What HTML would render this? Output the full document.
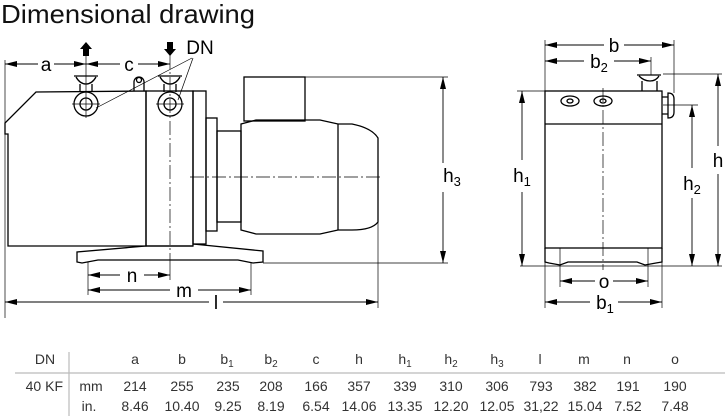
<!DOCTYPE html>
<html><head><meta charset="utf-8"><style>
html,body{margin:0;padding:0;background:#fff;}
svg{display:block;font-family:"Liberation Sans",sans-serif;}
</style></head><body>
<svg width="725" height="416" viewBox="0 0 725 416" xmlns="http://www.w3.org/2000/svg">
<defs>
<marker id="ar" markerWidth="12" markerHeight="8" refX="12" refY="4" orient="auto" markerUnits="userSpaceOnUse">
<path d="M0,1 L12,4 L0,7 Z" fill="#000"/></marker>
</defs>
<text x="1" y="23" font-size="26" fill="#111" textLength="254" lengthAdjust="spacingAndGlyphs">Dimensional drawing</text>

<g stroke="#000" stroke-width="1.3" fill="none">
<path d="M8,134 L5,134 L5,123 L36,92 L146,91 L146,246 L8,246 Z"/>
<rect x="146" y="91" width="47" height="155"/>
<rect x="193" y="91" width="13" height="153"/>
<rect x="206" y="118" width="11" height="113"/>
<rect x="217" y="131" width="24" height="91"/>
<rect x="244" y="77" width="61" height="44"/>
<path d="M241,124 L256,120 L320,120 L338,124 L352,124 Q372,128 378,138 L378,222 Q372,230 352,230 L338,230 L320,234 L256,234 L241,230 Z"/>
<line x1="338" y1="124" x2="338" y2="230"/>
<path d="M146,246 L77,252 L77,262 L82,263 L98,260 L238,260 L253,263 L263,262 L263,251 L193,244"/>
<line x1="146" y1="246" x2="193" y2="246"/>
<circle cx="86" cy="104" r="12"/><circle cx="86" cy="104" r="6"/>
<circle cx="170" cy="104" r="12"/><circle cx="170" cy="104" r="6"/>
<path d="M74,76 L98,76 M76,77 Q80,84 86,84 Q92,84 96,77 M80,84 L80,92 M92,84 L92,92"/>
<path d="M158,76 L182,76 M160,77 Q164,84 170,84 Q176,84 180,77 M164,84 L164,92 M176,84 L176,92"/>
<path d="M134,91 L134,82 A5,5 0 1 1 144,82 L144,91"/>
<circle cx="139" cy="80" r="2.5"/>
</g>
<g stroke="#000" stroke-width="0.7" fill="none">
<line x1="96" y1="108" x2="192" y2="58"/>
<line x1="178" y1="100" x2="193" y2="58"/>
<line x1="5" y1="60" x2="5" y2="318"/>
<line x1="86" y1="55" x2="86" y2="118"/>
<line x1="170" y1="55" x2="170" y2="262" stroke-dasharray="14,3,2,3"/>
<line x1="72" y1="104" x2="100" y2="104"/><line x1="156" y1="104" x2="184" y2="104"/>
<line x1="190" y1="177" x2="382" y2="177" stroke-dasharray="14,3,2,3"/>
<line x1="305" y1="77" x2="448" y2="77"/>
<line x1="263" y1="263" x2="448" y2="263"/>
<line x1="378" y1="222" x2="378" y2="308"/>
<line x1="88" y1="262" x2="88" y2="295"/>
<line x1="251" y1="262" x2="251" y2="295"/>
<line x1="170" y1="262" x2="170" y2="280"/>
</g>
<g stroke="#000" stroke-width="0.9" fill="none">
<line x1="38" y1="64" x2="5" y2="64" marker-end="url(#ar)"/>
<line x1="54" y1="64" x2="86" y2="64" marker-end="url(#ar)"/>
<line x1="120" y1="64" x2="86" y2="64" marker-end="url(#ar)"/>
<line x1="138" y1="64" x2="170" y2="64" marker-end="url(#ar)"/>
<line x1="443" y1="163" x2="443" y2="77" marker-end="url(#ar)"/>
<line x1="443" y1="192" x2="443" y2="263" marker-end="url(#ar)"/>
<line x1="120" y1="275" x2="88" y2="275" marker-end="url(#ar)"/>
<line x1="144" y1="275" x2="170" y2="275" marker-end="url(#ar)"/>
<line x1="170" y1="290" x2="88" y2="290" marker-end="url(#ar)"/>
<line x1="198" y1="290" x2="251" y2="290" marker-end="url(#ar)"/>
<line x1="209" y1="302" x2="5" y2="302" marker-end="url(#ar)"/>
<line x1="223" y1="302" x2="378" y2="302" marker-end="url(#ar)"/>
</g>
<path d="M86,42 L92,49 L89,49 L89,56 L83,56 L83,49 L80,49 Z" fill="#000"/>
<path d="M170,56 L176,49 L173,49 L173,42 L167,42 L167,49 L164,49 Z" fill="#000"/>
<g font-size="19" fill="#000" text-anchor="middle">
<text x="46" y="71">a</text><text x="129" y="71">c</text>
<text x="200" y="54">DN</text>
<text x="132" y="282">n</text><text x="184" y="297">m</text><text x="216" y="309">l</text>
<text x="452" y="182">h<tspan font-size="13" dy="4">3</tspan></text>
</g>

<g stroke="#000" stroke-width="1.3" fill="none">
<rect x="545" y="91" width="117" height="157"/>
<line x1="545" y1="124" x2="662" y2="124"/>
<path d="M545,248 L545,262 L549,263 L560,265 L568,262 L637,262 L645,265 L656,263 L662,262 L662,248"/>
<ellipse cx="570" cy="101" rx="9" ry="5"/><ellipse cx="570" cy="101" rx="3" ry="2"/>
<ellipse cx="603" cy="101" rx="9" ry="5"/><ellipse cx="603" cy="101" rx="3" ry="2"/>
<path d="M662,97 L668,97 L668,114 L662,114 M668,93 Q674,93 674,99 L674,112 Q674,118 668,118 Z"/>
<path d="M637,75 L661,75 M639,76 Q644,81 650,81 Q656,81 659,76 M642,81 L642,91 M657,81 L657,91"/>
</g>
<g stroke="#000" stroke-width="0.7" fill="none">
<line x1="545" y1="40" x2="545" y2="308"/>
<line x1="674" y1="40" x2="674" y2="93"/>
<line x1="651" y1="57" x2="651" y2="75"/>
<line x1="517" y1="91" x2="545" y2="91"/>
<line x1="520" y1="266" x2="722" y2="266"/>
<line x1="663" y1="74" x2="722" y2="74"/>
<line x1="663" y1="105" x2="698" y2="105"/>
<line x1="560" y1="248" x2="560" y2="287"/>
<line x1="648" y1="248" x2="648" y2="287"/>
<line x1="662" y1="262" x2="662" y2="308"/>
<line x1="603" y1="88" x2="603" y2="270" stroke-dasharray="14,3,2,3"/>
</g>
<g stroke="#000" stroke-width="0.9" fill="none">
<line x1="604" y1="45" x2="545" y2="45" marker-end="url(#ar)"/>
<line x1="624" y1="45" x2="674" y2="45" marker-end="url(#ar)"/>
<line x1="584" y1="61" x2="545" y2="61" marker-end="url(#ar)"/>
<line x1="614" y1="61" x2="651" y2="61" marker-end="url(#ar)"/>
<line x1="522" y1="160" x2="522" y2="91" marker-end="url(#ar)"/>
<line x1="522" y1="192" x2="522" y2="266" marker-end="url(#ar)"/>
<line x1="692" y1="168" x2="692" y2="105" marker-end="url(#ar)"/>
<line x1="692" y1="198" x2="692" y2="266" marker-end="url(#ar)"/>
<line x1="718" y1="146" x2="718" y2="74" marker-end="url(#ar)"/>
<line x1="718" y1="174" x2="718" y2="266" marker-end="url(#ar)"/>
<line x1="595" y1="281" x2="560" y2="281" marker-end="url(#ar)"/>
<line x1="613" y1="281" x2="648" y2="281" marker-end="url(#ar)"/>
<line x1="590" y1="302" x2="545" y2="302" marker-end="url(#ar)"/>
<line x1="618" y1="302" x2="662" y2="302" marker-end="url(#ar)"/>
</g>
<g font-size="19" fill="#000" text-anchor="middle">
<text x="614" y="52">b</text>
<text x="599" y="68">b<tspan font-size="13" dy="4">2</tspan></text>
<text x="522" y="182">h<tspan font-size="13" dy="4">1</tspan></text>
<text x="692" y="190">h<tspan font-size="13" dy="4">2</tspan></text>
<text x="718" y="167">h</text>
<text x="604" y="288">o</text>
<text x="605" y="309">b<tspan font-size="13" dy="4">1</tspan></text>
</g>

<line x1="69" y1="352" x2="69" y2="416" stroke="#999" stroke-width="0.8"/>
<line x1="15" y1="373" x2="725" y2="373" stroke="#bbb" stroke-width="1.2"/>
<g font-size="14" fill="#333" text-anchor="middle">
<text x="45" y="364">DN</text>
<text x="63" y="391" text-anchor="end">40 KF</text>
<text x="91" y="391">mm</text><text x="89" y="411">in.</text>
<text x="135" y="364">a</text><text x="182" y="364">b</text>
<text x="227" y="364">b<tspan font-size="10" dy="3">1</tspan></text>
<text x="271" y="364">b<tspan font-size="10" dy="3">2</tspan></text>
<text x="316" y="364">c</text><text x="359" y="364">h</text>
<text x="405" y="364">h<tspan font-size="10" dy="3">1</tspan></text>
<text x="451" y="364">h<tspan font-size="10" dy="3">2</tspan></text>
<text x="497" y="364">h<tspan font-size="10" dy="3">3</tspan></text>
<text x="540" y="364">l</text><text x="584" y="364">m</text>
<text x="627" y="364">n</text><text x="675" y="364">o</text>
<text x="135" y="391">214</text><text x="182" y="391">255</text><text x="228" y="391">235</text><text x="271" y="391">208</text><text x="316" y="391">166</text><text x="359" y="391">357</text><text x="405" y="391">339</text><text x="451" y="391">310</text><text x="497" y="391">306</text><text x="541" y="391">793</text><text x="585" y="391">382</text><text x="628" y="391">191</text><text x="675" y="391">190</text>
<text x="135" y="411">8.46</text><text x="182" y="411">10.40</text><text x="228" y="411">9.25</text><text x="271" y="411">8.19</text><text x="316" y="411">6.54</text><text x="359" y="411">14.06</text><text x="405" y="411">13.35</text><text x="451" y="411">12.20</text><text x="497" y="411">12.05</text><text x="541" y="411">31,22</text><text x="585" y="411">15.04</text><text x="628" y="411">7.52</text><text x="675" y="411">7.48</text>
</g>
</svg>
</body></html>
